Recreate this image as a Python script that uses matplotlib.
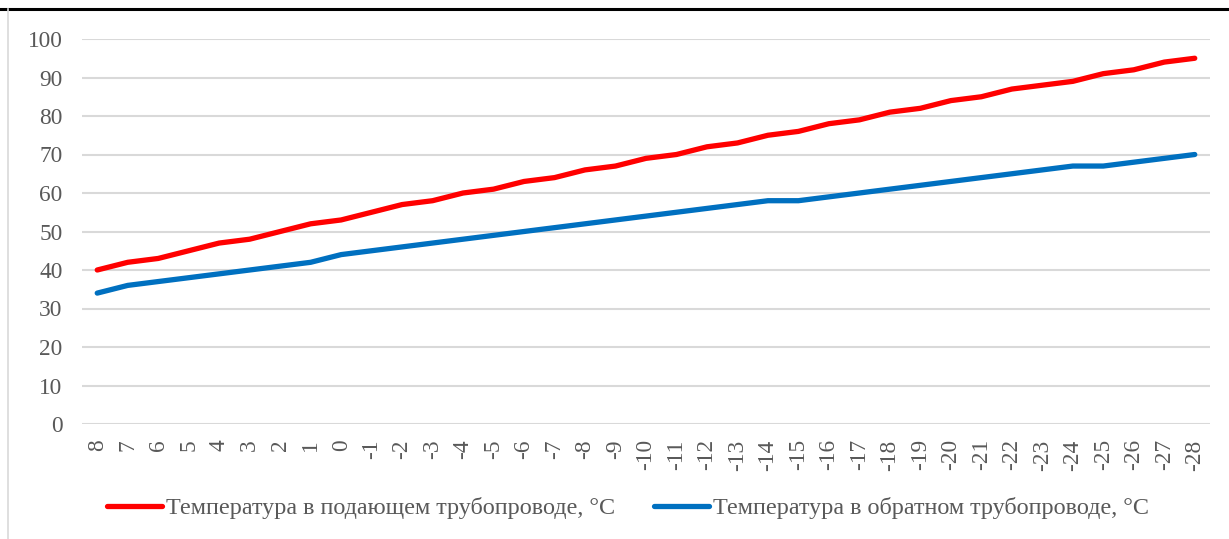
import matplotlib.pyplot as plt
from matplotlib.lines import Line2D

outdoor_temp = ['8', '7', '6', '5', '4', '3', '2', '1', '0', '-1', '-2', '-3', '-4',
                '-5', '-6', '-7', '-8', '-9', '-10', '-11', '-12', '-13', '-14', '-15',
                '-16', '-17', '-18', '-19', '-20', '-21', '-22', '-23', '-24', '-25',
                '-26', '-27', '-28']
supply_temp = [40, 42, 43, 45, 47, 48, 50, 52, 53, 55, 57, 58, 60, 61, 63, 64, 66, 67,
               69, 70, 72, 73, 75, 76, 78, 79, 81, 82, 84, 85, 87, 88, 89, 91, 92, 94, 95]
return_temp = [34, 36, 37, 38, 39, 40, 41, 42, 44, 45, 46, 47, 48, 49, 50, 51, 52, 53,
               54, 55, 56, 57, 58, 58, 59, 60, 61, 62, 63, 64, 65, 66, 67, 67, 68, 69, 70]
y_ticks = [0, 10, 20, 30, 40, 50, 60, 70, 80, 90, 100]

supply_label = 'Температура в подающем трубопроводе, °С'
return_label = 'Температура в обратном трубопроводе, °С'

plt.rcParams['font.family'] = ['Liberation Serif', 'DejaVu Serif']

W, H = 1229, 539
fig = plt.figure(figsize=(W / 100, H / 100), dpi=100)
ax = fig.add_axes([82 / W, 1 - 424 / H, (1210 - 82) / W, (424 - 39) / H])

x = list(range(len(outdoor_temp)))
ax.plot(x, supply_temp, color='#FF0000', lw=3.8, solid_capstyle='round')
ax.plot(x, return_temp, color='#0070C0', lw=3.8, solid_capstyle='round')

ax.set_xlim(-0.5, len(outdoor_temp) - 0.5)
ax.set_ylim(0, 100)
ax.set_yticks(y_ticks)
ax.set_xticks(x)
ax.set_xticklabels(outdoor_temp, rotation=90, va='top', ha='center')
ax.tick_params(length=0, labelsize=16.8, labelcolor='#595959')
ax.tick_params(axis='y', pad=14)
ax.tick_params(axis='x', pad=11)
ax.grid(axis='y', color='#d9d9d9', lw=1.5)
ax.set_axisbelow(True)
for s in ax.spines.values():
    s.set_visible(False)

handles = [Line2D([], [], color='#FF0000', lw=3.8, solid_capstyle='round'),
           Line2D([], [], color='#0070C0', lw=3.8, solid_capstyle='round')]
fig.legend(handles, [supply_label, return_label], loc='center',
           bbox_to_anchor=(628 / W, 1 - 508 / H), ncol=2, frameon=False,
           fontsize=17.4, labelcolor='#595959', handlelength=2.3,
           handletextpad=0.15, columnspacing=1.6, borderaxespad=0, borderpad=0)

# page border lines from the document
fig.add_artist(Line2D([0, 1], [1 - 8.5 / H, 1 - 8.5 / H], transform=fig.transFigure,
                      color='black', lw=2.2))
fig.add_artist(Line2D([8 / W, 8 / W], [0, 1 - 9 / H], transform=fig.transFigure,
                      color='#d9d9d9', lw=1.2))

fig.savefig('out.png', dpi=100)
